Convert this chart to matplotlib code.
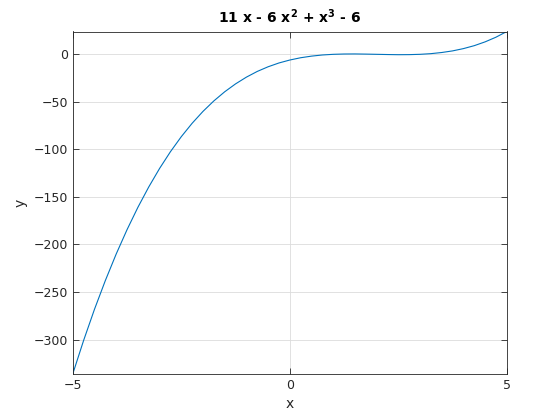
import matplotlib
matplotlib.use("Agg")
import matplotlib.pyplot as plt

# values
x_vals = [-5.0, -4.75, -4.5, -4.25, -4.0, -3.75, -3.5, -3.25, -3.0, -2.75,
          -2.5, -2.25, -2.0, -1.75, -1.5, -1.25, -1.0, -0.75, -0.5, -0.25,
          0.0, 0.25, 0.5, 0.75, 1.0, 1.25, 1.5, 1.75, 2.0, 2.25,
          2.5, 2.75, 3.0, 3.25, 3.5, 3.75, 4.0, 4.25, 4.5, 4.75, 5.0]
y_vals = [-336, -300.8, -268.1, -237.9, -210, -184.4, -160.9, -139.5, -120, -102.4,
          -86.6, -72.5, -60, -49.0, -39.4, -31.1, -24, -18.0, -13.1, -9.1,
          -6, -3.6, -1.9, -0.7, 0, 0.33, 0.4, 0.23, 0, -0.23,
          -0.4, -0.33, 0, 0.7, 1.9, 3.6, 6, 9.1, 13.1, 18.0, 24]
x_ticks = [-5, 0, 5]
y_ticks = [-300, -250, -200, -150, -100, -50, 0]

plt.rcParams["font.family"] = "DejaVu Sans"
plt.rcParams["mathtext.default"] = "bf"
fig = plt.figure(figsize=(5.6, 4.2), dpi=100)
ax = fig.add_axes([0.13, 0.11, 0.775, 0.815])

ax.plot(x_vals, y_vals, color="#0072BD", linewidth=0.8)

ax.set_xlim(-5, 5)
ax.set_ylim(-336, 24)
ax.set_xticks(x_ticks)
ax.set_yticks(y_ticks)
ax.grid(True, color="#dcdcdc", linewidth=0.6)
ax.set_axisbelow(True)
for s in ax.spines.values():
    s.set_color("#262626")
    s.set_linewidth(0.6)
ax.tick_params(direction="in", length=4, width=0.6, labelsize=9, colors="#262626",
               top=True, right=True)

ax.set_xlabel("x", fontsize=10, color="#262626")
ax.set_ylabel("y", fontsize=10, color="#262626")
ax.set_title("11 x - 6 x$^{2}$ + x$^{3}$ - 6", fontsize=10, fontweight="bold")

fig.savefig("out.png", dpi=100)
